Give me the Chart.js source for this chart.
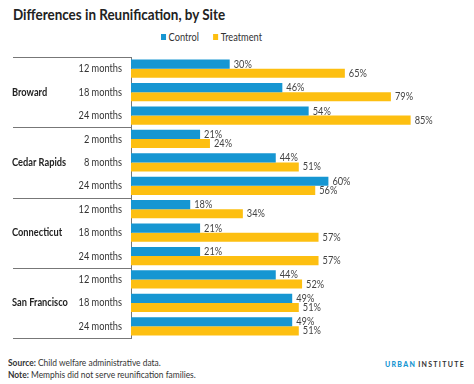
<!DOCTYPE html>
<html>
<head>
<meta charset="utf-8">
<script src="https://cdn.jsdelivr.net/npm/chart.js@4"></script>
<style>
  body { margin: 0; width: 474px; height: 384px; background: #fff; position: relative; overflow: hidden; font-family: Lato, sans-serif; color: #222; }
  .squeeze { transform: scaleX(0.84); transform-origin: 0 0; white-space: nowrap; }
  #title { position: absolute; left: 13px; top: 4px; font-weight: bold; font-size: 16px; }
  #legend { position: absolute; left: 161px; top: 30px; font-size: 11px; color: #333; display: flex; gap: 17px; }
  #legend span i { display: inline-block; width: 6px; height: 6px; margin-right: 3px; vertical-align: 1px; }
  #wrap { position: absolute; left: 0; top: 50px; width: 474px; height: 295px; }
  #foot { position: absolute; left: 8px; top: 357px; font-size: 10px; line-height: 11.5px; color: #333; }
  #brand { position: absolute; left: 385px; top: 360px; font-size: 7px; font-weight: bold; letter-spacing: 1.3px; color: #333; }
  #brand b { color: #1696d2; margin-right: 2px; }
</style>
</head>
<body>
<div id="title" class="squeeze">Differences in Reunification, by Site</div>
<div id="legend" class="squeeze">
  <span><i style="background:#1696d2"></i>Control</span>
  <span><i style="background:#fdbf11"></i>Treatment</span>
</div>
<div id="wrap"><canvas id="chart"></canvas></div>
<div id="foot" class="squeeze"><b>Source:</b> Child welfare administrative data.<br><b>Note:</b> Memphis did not serve reunification families.</div>
<div id="brand"><b>URBAN</b>INSTITUTE</div>
<script>
// === Données ===
const sites = ['Broward', 'Cedar Rapids', 'Connecticut', 'San Francisco'];
const months = ['12 months', '18 months', '24 months',
                '2 months', '8 months', '24 months',
                '12 months', '18 months', '24 months',
                '12 months', '18 months', '24 months'];
const control = [30, 46, 54, 21, 44, 60, 18, 21, 21, 44, 49, 49];
const treatment = [65, 79, 85, 24, 51, 56, 34, 57, 57, 52, 51, 51];

const SQ = 0.84; // the original text is a bit narrow

function squeezeText(ctx, txt, x, y, align) {
  ctx.save();
  ctx.translate(x, y);
  ctx.scale(SQ, 1);
  ctx.textAlign = align;
  ctx.fillText(txt, 0, 0);
  ctx.restore();
}

// category labels, site names, separators, value labels
const decorPlugin = {
  id: 'decor',
  afterDatasetsDraw(chart) {
    const ctx = chart.ctx;
    const y = chart.scales.y;
    const area = chart.chartArea;
    const step = (area.bottom - area.top) / months.length;
    ctx.save();
    ctx.strokeStyle = '#777';
    ctx.lineWidth = 1;
    for (let g = 0; g <= sites.length; g++) {
      const py = Math.round(area.top + g * 3 * step) + 0.5;
      ctx.beginPath();
      ctx.moveTo(13, py);
      ctx.lineTo(area.left, py);
      ctx.stroke();
    }
    ctx.textBaseline = 'middle';
    ctx.font = '11px Lato';
    ctx.fillStyle = '#333';
    months.forEach((m, i) => squeezeText(ctx, m, area.left - 9, y.getPixelForValue(i), 'right'));
    ctx.font = 'bold 11px Lato';
    ctx.fillStyle = '#222';
    sites.forEach((s, g) => squeezeText(ctx, s, 12, y.getPixelForValue(g * 3 + 1), 'left'));
    ctx.font = '11px Lato';
    ctx.fillStyle = '#444';
    chart.data.datasets.forEach((ds, i) => {
      chart.getDatasetMeta(i).data.forEach((bar, j) => {
        squeezeText(ctx, ds.data[j] + '%', bar.x + 4, bar.y, 'left');
      });
    });
    ctx.restore();
  }
};

new Chart(document.getElementById('chart'), {
  type: 'bar',
  data: {
    labels: months,
    datasets: [
      { label: 'Control', data: control, backgroundColor: '#1696d2' },
      { label: 'Treatment', data: treatment, backgroundColor: '#fdbf11' }
    ]
  },
  options: {
    indexAxis: 'y',
    responsive: true,
    maintainAspectRatio: false,
    animation: false,
    categoryPercentage: 0.78,
    barPercentage: 1,
    layout: { padding: { top: 7, right: 14, bottom: 7, left: 0 } },
    plugins: {
      legend: { display: false },
      tooltip: { enabled: false }
    },
    scales: {
      x: { display: false, min: 0, max: 100 },
      y: {
        afterFit(s) { s.width = 131; },
        grid: { display: false },
        border: { display: true, color: '#777' },
        ticks: { display: false }
      }
    }
  },
  plugins: [decorPlugin]
});
</script>
</body>
</html>
